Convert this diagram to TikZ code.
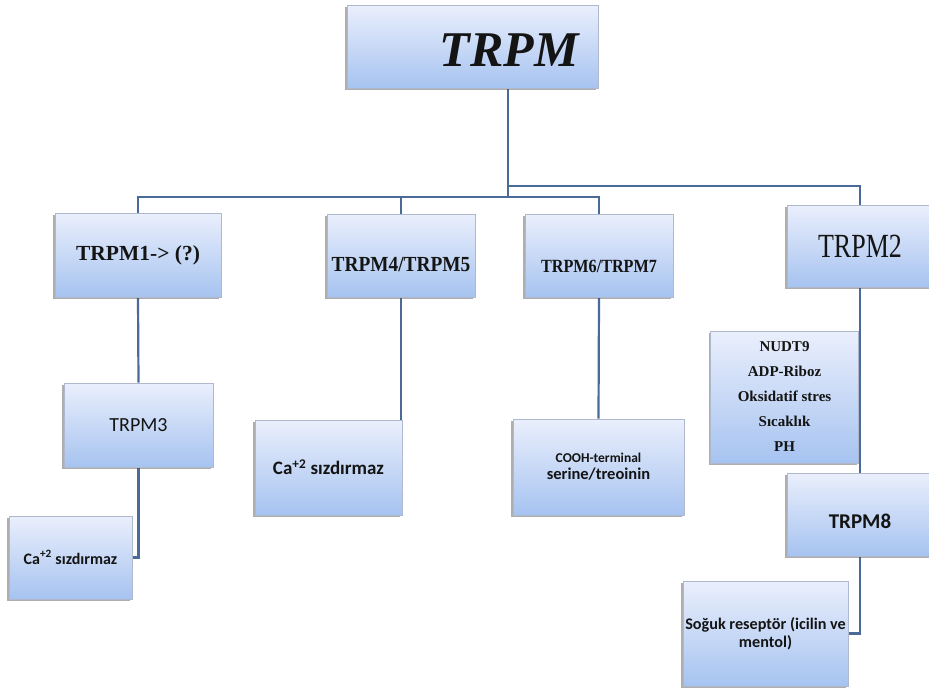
\documentclass[tikz,border=0pt]{standalone}
\usepackage{fontspec}
\usepackage{graphicx}
\setmainfont{Liberation Serif}
\newfontfamily\calfont{Carlito}
\usetikzlibrary{shadows,backgrounds}
\definecolor{boxtop}{RGB}{234,239,252}
\definecolor{boxbot}{RGB}{166,195,240}
\definecolor{boxline}{RGB}{175,184,204}
\definecolor{conn}{RGB}{74,106,152}
\begin{document}
\begin{tikzpicture}[x=1pt,y=-1pt,
  box/.style={draw=boxline, line width=0.8pt, top color=boxtop, bottom color=boxbot,
    drop shadow={shadow xshift=-1.6pt, shadow yshift=-1.6pt, opacity=0.45, fill=black!70},
    inner sep=0pt, align=center, text=black!92},
  sz/.style 2 args={minimum width=#1pt, minimum height=#2pt},
  wire/.style={draw=conn, line width=2.2pt},
  serifb/.style={font=\bfseries\fontsize{#1}{#1}\selectfont},
  calb/.style={font=\calfont\bfseries\fontsize{#1}{#1}\selectfont},
  calr/.style={font=\calfont\fontsize{#1}{#1}\selectfont}]
\useasboundingbox (0,0) rectangle (929,691);

% boxes
\node[box, sz={251}{83}, font=\bfseries\itshape\fontsize{50}{50}\selectfont, text height=40pt, text depth=0pt] (top) at (472.5,46.5) {\hspace*{73pt}TRPM};
\node[box, sz={166}{84}, serifb=21.5] (m1) at (138,255) {TRPM1-> (?)};
\node[box, sz={148}{83}, serifb=21.5, text height=31pt, text depth=0pt] (m45) at (401,255.5) {\scalebox{0.9}[1]{TRPM4/TRPM5}};
\node[box, sz={148}{83}, serifb=18.6, text height=33pt, text depth=0pt] (m67) at (599,255.5) {\scalebox{0.87}[1]{TRPM6/TRPM7}};
\node[box, sz={146}{82}, font=\fontsize{26}{26}\selectfont] (m2) at (860,246) {\scalebox{1}[1.3]{TRPM2}};
\node[box, sz={149}{84}, calr=20] (m3) at (138.5,425) {TRPM3};
\node[box, sz={123}{83}, calb=16] (ca1) at (70.5,557.5) {Ca\textsuperscript{+2} sızdırmaz};
\node[box, sz={147}{95}, calb=19] (ca2) at (328.5,467.5) {Ca\textsuperscript{+2} sızdırmaz};
\node[box, sz={171}{96}, font=\calfont\bfseries\fontsize{16.5}{17}\selectfont] (cooh) at (598.5,467)
  {{\fontsize{13.5}{17}\selectfont COOH-terminal}\\serine/treoinin};
\node[box, sz={148}{132}, font=\bfseries\fontsize{15}{25}\selectfont] (nudt) at (784.5,397)
  {NUDT9\\ADP-Riboz\\Oksidatif stres\\Sıcaklık\\PH};
\node[box, sz={146}{83}, calb=21, text height=27.5pt, text depth=0pt] (m8) at (860,514.5) {TRPM8};
\node[box, sz={165}{105}, font=\calfont\bfseries\fontsize{16.2}{18}\selectfont] (sog) at (765.5,633.5)
  {Soğuk reseptör (icilin ve\\mentol)};

% connectors
\coordinate (j) at (508,197);
\coordinate (b1) at (508,186);
\begin{scope}[on background layer]
  \fill[white] (0,0) rectangle (929,691);
  \draw[wire] (top.south -| j) -- (j);
  \draw[wire] (b1) -| (m2.north);
  \draw[wire] (m1.north) |- (j) -| (m67.north);
  \draw[wire] (m45.north) -- (m45.north |- j);
  \draw[wire] (m1.south) -- (m3.north);
  \draw[wire] (m3.south) |- (ca1.east);
  \draw[wire] (m45.south) -- (m45.south |- ca2.east);
  \draw[wire] (m67.south) -- (cooh.north);
  \draw[wire] (m2.south) -- (m8.north);
  \draw[wire] (m8.south) |- (sog.east);
\end{scope}
\end{tikzpicture}
\end{document}
